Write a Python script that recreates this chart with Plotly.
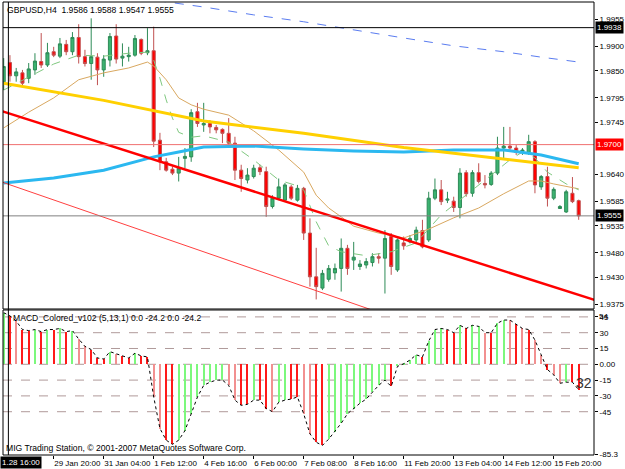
import plotly.graph_objects as go

# ---------------- data ----------------
bars = list(range(93))
opens = [1.9828,1.9867,1.9840,1.9846,1.9835,1.9852,1.9869,1.9862,1.9889,1.9880,
         1.9904,1.9889,1.9918,1.9879,1.9865,1.9878,1.9852,1.9872,1.9921,1.9876,
         1.9879,1.9882,1.9914,1.9887,1.9891,1.9709,1.9665,1.9650,1.9642,1.9672,
         1.9675,1.9767,1.9740,1.9743,1.9735,1.9731,1.9723,1.9703,1.9648,1.9628,
         1.9635,1.9653,1.9645,1.9574,1.9591,1.9587,1.9614,1.9587,1.9611,1.9520,
         1.9431,1.9408,1.9426,1.9439,1.9448,1.9489,1.9465,1.9452,1.9455,1.9460,
         1.9472,1.9469,1.9513,1.9445,1.9500,1.9502,1.9506,1.9525,1.9506,1.9591,
         1.9608,1.9587,1.9585,1.9572,1.9643,1.9601,1.9643,1.9621,1.9619,1.9642,
         1.9693,1.9697,1.9693,1.9686,1.9684,1.9706,1.9614,1.9635,1.9591,1.9570,
         1.9563,1.9601,1.9586]
highs = [1.9876,1.9882,1.9856,1.9852,1.9866,1.9886,1.9927,1.9907,1.9899,1.9917,
         1.9913,1.9929,1.9945,1.9893,1.9957,1.9886,1.9882,1.9927,1.9945,1.9906,
         1.9899,1.9923,1.9916,1.9937,1.9940,1.9724,1.9673,1.9655,1.9675,1.9693,
         1.9772,1.9785,1.9785,1.9750,1.9740,1.9733,1.9754,1.9716,1.9659,1.9652,
         1.9659,1.9659,1.9655,1.9597,1.9631,1.9622,1.9618,1.9618,1.9614,1.9550,
         1.9490,1.9445,1.9455,1.9458,1.9509,1.9496,1.9502,1.9465,1.9469,1.9479,
         1.9479,1.9526,1.9520,1.9509,1.9513,1.9516,1.9533,1.9547,1.9604,1.9631,
         1.9628,1.9604,1.9594,1.9652,1.9648,1.9648,1.9662,1.9638,1.9646,1.9716,
         1.9736,1.9736,1.9699,1.9693,1.9720,1.9709,1.9638,1.9655,1.9613,1.9577,
         1.9608,1.9634,1.9588]
lows = [1.9811,1.9828,1.9828,1.9821,1.9825,1.9842,1.9856,1.9858,1.9878,1.9876,
        1.9882,1.9882,1.9865,1.9859,1.9832,1.9821,1.9838,1.9859,1.9865,1.9859,
        1.9869,1.9879,1.9882,1.9882,1.9695,1.9648,1.9645,1.9638,1.9625,1.9652,
        1.9665,1.9736,1.9726,1.9723,1.9723,1.9703,1.9699,1.9628,1.9604,1.9621,
        1.9631,1.9638,1.9553,1.9570,1.9587,1.9585,1.9587,1.9584,1.9506,1.9411,
        1.9385,1.9404,1.9421,1.9425,1.9401,1.9435,1.9445,1.9445,1.9448,1.9452,
        1.9458,1.9397,1.9435,1.9441,1.9486,1.9499,1.9499,1.9489,1.9502,1.9587,
        1.9577,1.9581,1.9563,1.9550,1.9594,1.9594,1.9621,1.9611,1.9616,1.9638,
        1.9669,1.9689,1.9679,1.9679,1.9679,1.9601,1.9608,1.9574,1.9587,1.9569,
        1.9561,1.9581,1.9547]
closes = [1.9859,1.9840,1.9848,1.9825,1.9854,1.9870,1.9862,1.9887,1.9882,1.9905,
          1.9889,1.9918,1.9879,1.9865,1.9879,1.9852,1.9874,1.9920,1.9874,1.9880,
          1.9882,1.9916,1.9886,1.9891,1.9707,1.9665,1.9648,1.9642,1.9652,1.9676,
          1.9765,1.9743,1.9743,1.9736,1.9730,1.9723,1.9703,1.9648,1.9631,1.9638,
          1.9652,1.9645,1.9574,1.9591,1.9614,1.9618,1.9591,1.9611,1.9520,1.9431,
          1.9411,1.9438,1.9448,1.9448,1.9489,1.9448,1.9471,1.9457,1.9462,1.9472,
          1.9469,1.9509,1.9452,1.9506,1.9494,1.9509,1.9526,1.9492,1.9591,1.9608,
          1.9584,1.9589,1.9572,1.9642,1.9600,1.9643,1.9625,1.9618,1.9642,1.9693,
          1.9697,1.9693,1.9684,1.9689,1.9706,1.9618,1.9635,1.9591,1.9609,1.9574,
          1.9604,1.9584,1.9555]

macd = [49,46,41,33,32,33,31,33,33,34,31,32,24,17,14,6,5,12,10,8,6,10.5,8,7,
        -31,-61,-72,-76,-72,-63,-47,-31,-20,-17,-15,-15,
        -20,-34,-39,-38,-34,-34,-42,-45,-36,-34,-33,-31,
        -47,-66,-74,-77,-71,-64,-56,-47,-42,-37,-33,-26,-20,-15,-21,
        -2,0.5,4,9,7,22,33,34,33,30,37,34,37,36,30,30,39,42,42,38,34,33,23,9,-5,
        -10,-18,-17,-17,-24.2]
macd_col = ['g','r','p','r','r','g','r','g','r','g','r','g','p','p','r','r','r','g','p','r',
            'r','g','r','r','p','p','r','r','g','g','g','g','g','g','g','g','p','p','r','r',
            'g','r','r','p','g','g','r','r','p','p','r','r','g','g','g','g','g','g','g','g',
            'g','g','r','g','g','g','g','r','g','g','g','r','r','g','r','g','g','p','r','g',
            'g','p','r','p','r','p','p','r','p','p','g','r','r']

# moving averages (sampled readings)
yellow_x = [0, 16, 32, 48, 64, 80, 92]
yellow_y = [1.9825, 1.9790, 1.9748, 1.9723, 1.9694, 1.9670, 1.9653]
cyan_x = [0, 8, 16, 24, 28, 32, 40, 48, 56, 64, 72, 80, 86, 92]
cyan_y = [1.9622, 1.9632, 1.9648, 1.9675, 1.9685, 1.9695, 1.9697, 1.9691, 1.9687, 1.9685,
          1.9689, 1.9689, 1.9679, 1.9661]
tan_x = [0, 4, 8, 12, 16, 20, 23, 24, 26, 28, 30, 32, 36, 40, 44, 48, 50, 52, 54, 56, 60,
         64, 68, 72, 76, 80, 84, 86, 88, 92]
tan_y = [1.9734, 1.9766, 1.9795, 1.9832, 1.9846, 1.9856, 1.9868, 1.9860, 1.9832, 1.9795,
         1.9781, 1.9772, 1.9760, 1.9728, 1.9689, 1.9644, 1.9597, 1.9571, 1.9553, 1.9534,
         1.9520, 1.9510, 1.9528, 1.9551, 1.9571, 1.9600, 1.9626, 1.9626, 1.9620, 1.9610]
fast_x = [0, 4, 8, 12, 16, 20, 23, 24, 25, 26, 27, 28, 30, 32, 36, 40, 44, 47, 48, 50, 52,
          54, 58, 62, 66, 70, 74, 78, 81, 83, 85, 87, 90, 92]
fast_y = [1.9811, 1.9838, 1.9864, 1.9882, 1.9880, 1.9886, 1.9888, 1.9872, 1.9835, 1.9791,
          1.9754, 1.9725, 1.9715, 1.9718, 1.9705, 1.9669, 1.9628, 1.9616, 1.9608, 1.9543,
          1.9494, 1.9482, 1.9474, 1.9482, 1.9500, 1.9557, 1.9597, 1.9638, 1.9669, 1.9685,
          1.9673, 1.9644, 1.9620, 1.9608]
slow_x = [16, 24, 32, 40, 48, 56, 64, 72, 80, 86, 92]
slow_y = [2.0011, 1.9994, 1.9980, 1.9964, 1.9950, 1.9933, 1.9917, 1.9901, 1.9889, 1.9878, 1.9868]

trend_thick_x = [-1, 95]
trend_thick_y = [1.9771, 1.9382]
trend_thin_x = [-1, 62]
trend_thin_y = [1.9627, 1.9350]

hline_black = 1.9938
hline_red = 1.9700
bid = 1.9555

price_ticks = [1.9955, 1.9900, 1.9850, 1.9795, 1.9745, 1.9640, 1.9585, 1.9535, 1.9480, 1.9430, 1.9375]
macd_ticks = [45, 30, 15, 0, -15, -30, -45, -85.3]
macd_ticktext = ['45', '30', '15', '0.00', '-15', '-30', '-45', '-85.3']
macd_grid = [45, 30, 15, 0, -15, -30, -45]
time_idx = [8, 16, 24, 32, 40, 48, 56, 64, 72, 80, 88]
time_labels = ['29 Jan 20:00', '31 Jan 04:00', '1 Feb 12:00', '4 Feb 16:00', '6 Feb 00:00',
               '7 Feb 08:00', '8 Feb 16:00', '11 Feb 20:00', '13 Feb 04:00', '14 Feb 12:00',
               '15 Feb 20:00']

# ---------------- figure ----------------
FONT = 'Liberation Sans, Arial, sans-serif'
FS = 8.6
colmap = {'g': '#7cf87c', 'r': '#ff1a1a', 'p': '#f29090'}

fig = go.Figure()

fig.add_trace(go.Candlestick(
    x=bars, open=opens, high=highs, low=lows, close=closes,
    xaxis='x2', yaxis='y',
    increasing=dict(line=dict(color='#2e8b57', width=1), fillcolor='#3cb371'),
    decreasing=dict(line=dict(color='#c05050', width=1), fillcolor='#ff0000'),
    whiskerwidth=0, showlegend=False, hoverinfo='skip'))

def line(x, y, color, width, dash='solid'):
    fig.add_trace(go.Scatter(x=x, y=y, mode='lines', xaxis='x2', yaxis='y',
                             line=dict(color=color, width=width, dash=dash),
                             showlegend=False, hoverinfo='skip'))

line(slow_x, slow_y, '#5a7cf0', 1, 'dash')
line(tan_x, tan_y, '#d9a860', 1)
line(fast_x, fast_y, '#80c880', 1, 'dash')
line(cyan_x, cyan_y, '#2bb8f0', 3)
line(yellow_x, yellow_y, '#ffd000', 3)
line(trend_thick_x, trend_thick_y, '#ff0000', 2.5)
line(trend_thin_x, trend_thin_y, '#ff4040', 1)

# MACD histogram
fig.add_trace(go.Bar(x=bars, y=macd, xaxis='x', yaxis='y2', width=0.2,
                     marker=dict(color=[colmap[c] for c in macd_col], line=dict(width=0)),
                     showlegend=False, hoverinfo='skip'))
fig.add_trace(go.Scatter(x=bars, y=macd, mode='lines', xaxis='x', yaxis='y2',
                         line=dict(color='black', width=1, dash='dot'),
                         showlegend=False, hoverinfo='skip'))

shapes = []
for v in macd_grid:
    shapes.append(dict(type='line', xref='x domain', yref='y2', x0=0, x1=1, y0=v, y1=v,
                       line=dict(color='#b09a9a', width=1, dash='dash'), layer='below'))
shapes.append(dict(type='line', xref='x2 domain', yref='y', x0=0, x1=1, y0=hline_black, y1=hline_black,
                   line=dict(color='#000000', width=1)))
shapes.append(dict(type='line', xref='x2 domain', yref='y', x0=0, x1=1, y0=hline_red, y1=hline_red,
                   line=dict(color='#f07070', width=1)))
shapes.append(dict(type='line', xref='x2 domain', yref='y', x0=0, x1=1, y0=bid, y1=bid,
                   line=dict(color='#808080', width=1)))
shapes.append(dict(type='line', xref='x', yref='paper', x0=0.75, x1=0.75, y0=0, y1=1,
                   line=dict(color='#000000', width=1)))
shapes.append(dict(type='rect', xref='paper', yref='paper', x0=0, x1=1, y0=0.3223, y1=1,
                   line=dict(color='#000000', width=1)))
shapes.append(dict(type='rect', xref='paper', yref='paper', x0=0, x1=1, y0=0, y1=0.3201,
                   line=dict(color='#000000', width=1)))

annotations = []
def axbox(val, bg, text):
    annotations.append(dict(xref='paper', x=1, xanchor='left', xshift=1, yref='y', y=val,
                            text=text, showarrow=False, bgcolor=bg, borderpad=1,
                            font=dict(family=FONT, size=8, color='white')))
axbox(hline_black, '#000000', '1.9938')
axbox(hline_red, '#ff0000', '1.9700')
axbox(bid, '#000000', '1.9555')

annotations.append(dict(xref='paper', x=0, xanchor='left', xshift=2, yref='paper', y=1,
                        yanchor='top', yshift=-1, showarrow=False,
                        text='GBPUSD,H4  1.9586 1.9588 1.9547 1.9555',
                        font=dict(family=FONT, size=FS, color='black')))
annotations.append(dict(xref='paper', x=0, xanchor='left', xshift=8, yref='y2 domain', y=1,
                        yanchor='top', yshift=-1, showarrow=False,
                        text='MACD_Colored_v102 (5,13,1) 0.0 -24.2 0.0 -24.2',
                        font=dict(family=FONT, size=FS, color='black')))
annotations.append(dict(xref='paper', x=0, xanchor='left', xshift=1, yref='y2 domain', y=0,
                        yanchor='bottom', yshift=0, showarrow=False,
                        text='MIG Trading Station, © 2001-2007 MetaQuotes Software Corp.',
                        font=dict(family=FONT, size=FS, color='black')))
annotations.append(dict(xref='x', x=92.9, yref='y2', y=-17.8, showarrow=False, text='32',
                        font=dict(family=FONT, size=14, color='#333333')))
annotations.append(dict(xref='paper', x=1, xanchor='left', xshift=3, yref='y2', y=51.55,
                        yanchor='top', showarrow=False, text='54',
                        font=dict(family=FONT, size=8, color='black')))
annotations.append(dict(xref='paper', x=0, xanchor='left', xshift=-3, yref='paper', y=0,
                        yanchor='top', yshift=-1, showarrow=False, text='1.28 16:00',
                        bgcolor='#000000', borderpad=1,
                        font=dict(family=FONT, size=8, color='white')))

xr = [-0.112, 94.45]
fig.update_layout(
    width=625, height=469, margin=dict(l=3, r=31, t=2, b=14, autoexpand=False),
    paper_bgcolor='white', plot_bgcolor='white', bargap=0,
    font=dict(family=FONT, size=8, color='black'),
    xaxis=dict(domain=[0, 1], anchor='y2', range=xr, showgrid=False, zeroline=False,
               tickmode='array', tickvals=time_idx, ticktext=time_labels, tickangle=0,
               ticks='outside', ticklen=3, tickcolor='black', automargin=False,
               ticklabelposition='outside right', tickfont=dict(size=8),
               rangeslider=dict(visible=False), showline=False),
    xaxis2=dict(domain=[0, 1], anchor='y', range=xr, matches='x', showgrid=False,
                zeroline=False, showticklabels=False, rangeslider=dict(visible=False)),
    yaxis=dict(domain=[0.3223, 1], anchor='x2', side='right', range=[1.93655, 1.99902],
               showgrid=False, zeroline=False, tickmode='array', tickvals=price_ticks,
               ticktext=[f'{v:.4f}' for v in price_ticks], ticks='outside', ticklen=3,
               tickcolor='black', tickfont=dict(size=8), automargin=False),
    yaxis2=dict(domain=[0, 0.3201], anchor='x', side='right', range=[-86.1, 51.55],
                showgrid=False, zeroline=False, tickmode='array', tickvals=macd_ticks,
                ticktext=macd_ticktext, ticks='outside', ticklen=3, tickcolor='black',
                tickfont=dict(size=8), automargin=False),
    shapes=shapes, annotations=annotations,
)

fig.write_html('out.html')
